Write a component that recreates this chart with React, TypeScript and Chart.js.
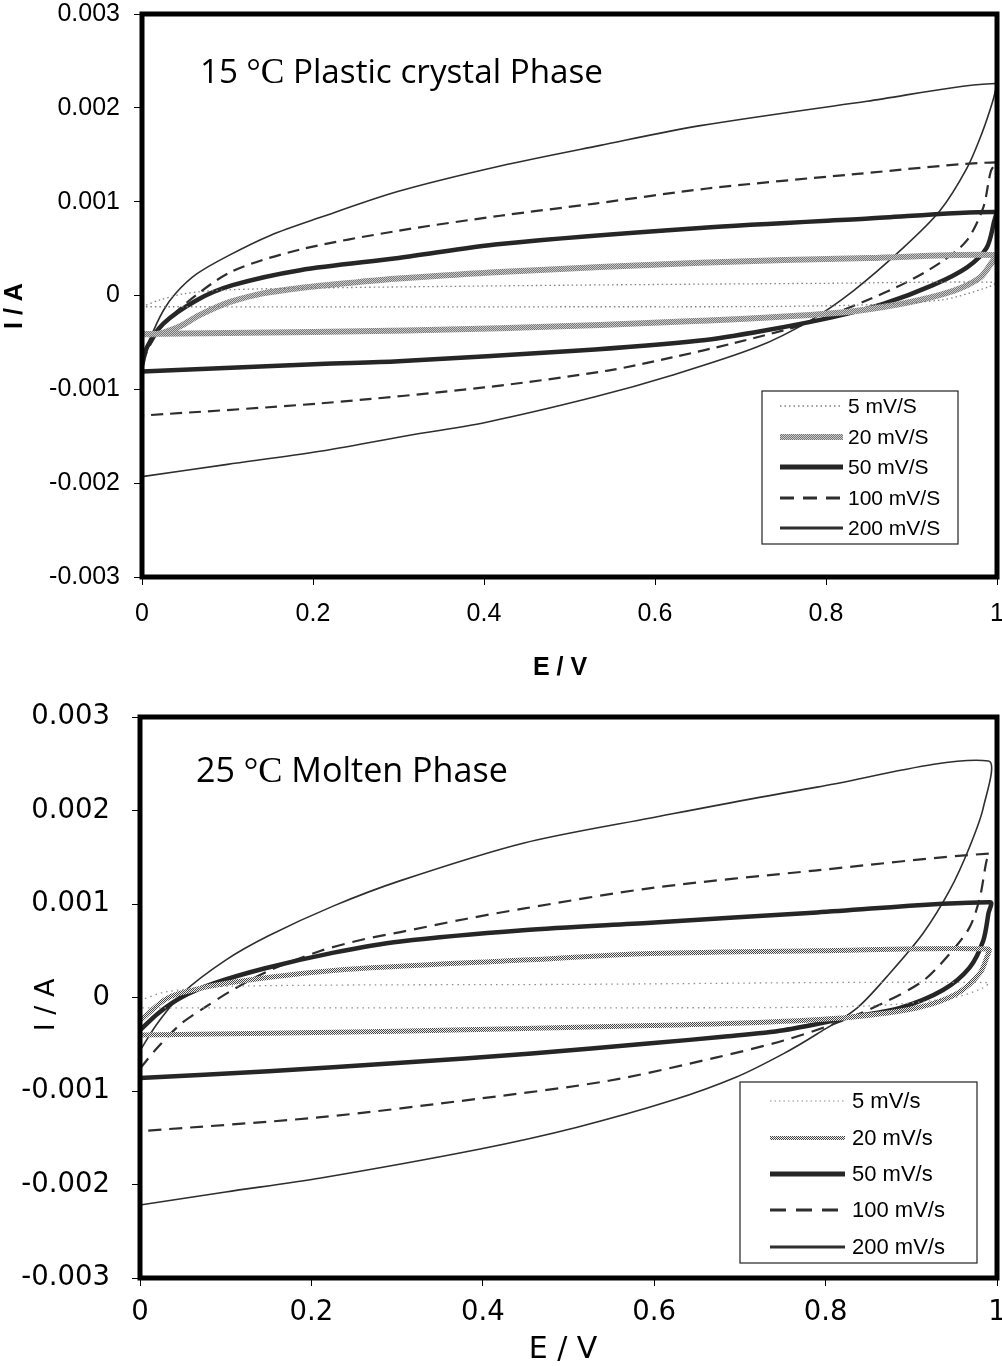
import { useEffect, useRef } from 'react';
import { Chart, registerables } from 'chart.js';

Chart.register(...registerables);

// 15 °C plastic crystal phase, points [E / V, I / A] in scan order (forward then reverse)
const top5: [number, number][] = [
  [0, -0.00012], [0.02, -0.00005], [0.05, 0.00002], [0.1, 0.00006], [0.2, 0.00008], [0.5, 0.00011],
  [0.8, 0.00013], [1.0, 0.00014], [0.99, 0.00009], [0.933, -0.00005], [0.8, -0.00011], [0.5, -0.00012], [0, -0.00012],
];
const top20: [number, number][] = [
  [0, -0.00041], [0.018, -0.00041], [0.044, -0.00033], [0.065, -0.00022], [0.083, -0.00014], [0.106, -0.00006],
  [0.14, 0.00002], [0.185, 0.00008], [0.25, 0.00014], [0.3, 0.00018], [0.419, 0.00025], [0.653, 0.00035],
  [0.85, 0.0004], [1.0, 0.00043],
  [0.993, 0.00034], [0.98, 0.00019], [0.949, 0.00005], [0.887, -0.00009], [0.808, -0.00019], [0.653, -0.00027],
  [0.419, -0.00035], [0.2, -0.00039], [0, -0.00041],
];
const top50: [number, number][] = [
  [0, -0.00075], [0.006, -0.00055], [0.025, -0.0003], [0.064, -0.00005], [0.106, 0.00011], [0.185, 0.00027],
  [0.3, 0.0004], [0.419, 0.00055], [0.653, 0.00072], [0.85, 0.00082], [1.0, 0.00089],
  [0.997, 0.0008], [0.988, 0.00051], [0.965, 0.0003], [0.925, 0.00011], [0.867, -0.00009], [0.808, -0.00023],
  [0.73, -0.00037], [0.653, -0.00048], [0.507, -0.00059], [0.3, -0.0007], [0.208, -0.00073], [0, -0.00081],
];
const top100: [number, number][] = [
  [0, -0.00072], [0.01, -0.00052], [0.025, -0.00031], [0.06, -0.00002], [0.106, 0.00026], [0.185, 0.00049],
  [0.3, 0.00069], [0.419, 0.00085], [0.53, 0.00098], [0.661, 0.00114], [0.83, 0.00129], [1.0, 0.00142],
  [0.993, 0.00133], [0.984, 0.00094], [0.965, 0.00059], [0.937, 0.00037], [0.894, 0.00014], [0.848, -0.00005],
  [0.781, -0.00029], [0.691, -0.00051], [0.62, -0.00066], [0.545, -0.0008], [0.4, -0.00098], [0.208, -0.00115],
  [0, -0.00128],
];
const top200: [number, number][] = [
  [0, -0.00072], [0.01, -0.00045], [0.025, -0.00016], [0.04, 0.00003], [0.064, 0.00023], [0.1, 0.00042],
  [0.15, 0.00064], [0.208, 0.00083], [0.3, 0.00111], [0.419, 0.00138], [0.536, 0.0016], [0.653, 0.00181],
  [0.848, 0.00207], [1.0, 0.00226],
  [0.995, 0.00207], [0.982, 0.00172], [0.965, 0.00136], [0.933, 0.0009], [0.887, 0.00048], [0.832, 0.00005],
  [0.781, -0.00027], [0.719, -0.00055], [0.62, -0.00085], [0.53, -0.00108], [0.403, -0.00135], [0.3, -0.00151],
  [0.208, -0.00166], [0.1, -0.0018], [0, -0.00193],
];

// 25 °C molten phase
const bottom5: [number, number][] = [
  [0, -0.00003], [0.03, 0.00006], [0.1, 0.00012], [0.5, 0.00014], [0.99, 0.00016],
  [0.983, 0.0001], [0.95, 0.0], [0.85, -0.00009], [0.6, -0.00011], [0, -0.00011],
];
const bottom20: [number, number][] = [
  [0, -0.00025], [0.028, -0.00003], [0.048, 0.00005], [0.106, 0.00016], [0.226, 0.00029], [0.447, 0.0004],
  [0.596, 0.00047], [0.79, 0.0005], [0.99, 0.00052],
  [0.988, 0.00043], [0.98, 0.00026], [0.953, 0.00004], [0.907, -0.00011], [0.829, -0.00021], [0.712, -0.00027],
  [0.596, -0.0003], [0.3, -0.00036], [0, -0.0004],
];
const bottom50: [number, number][] = [
  [0, -0.00035], [0.021, -0.00017], [0.048, 0.0], [0.086, 0.00015], [0.145, 0.00031], [0.226, 0.00048],
  [0.304, 0.0006], [0.447, 0.00072], [0.596, 0.0008], [0.79, 0.00091], [0.992, 0.00102],
  [0.99, 0.0009], [0.984, 0.00061], [0.968, 0.00032], [0.937, 0.00008], [0.887, -0.00011], [0.829, -0.00021],
  [0.751, -0.00035], [0.68, -0.00042], [0.596, -0.00049], [0.457, -0.0006], [0.3, -0.0007], [0.15, -0.00079],
  [0, -0.00086],
];
const bottom100: [number, number][] = [
  [0, -0.00076], [0.021, -0.00053], [0.048, -0.00028], [0.075, -0.00011], [0.106, 0.00007], [0.149, 0.00028],
  [0.211, 0.0005], [0.26, 0.00062], [0.304, 0.0007], [0.38, 0.00084], [0.447, 0.00095], [0.596, 0.00117],
  [0.79, 0.00136], [0.992, 0.00154],
  [0.988, 0.00147], [0.98, 0.00107], [0.968, 0.00075], [0.945, 0.00047], [0.914, 0.00018], [0.867, -0.00006],
  [0.813, -0.00027], [0.751, -0.00046], [0.673, -0.00064], [0.547, -0.00089], [0.397, -0.00108],
  [0.211, -0.00128], [0, -0.00143],
];
const bottom200: [number, number][] = [
  [0, -0.00057], [0.02, -0.00028], [0.05, 0.00005], [0.1, 0.0004], [0.15, 0.00066], [0.226, 0.00098],
  [0.304, 0.00125], [0.447, 0.00165], [0.596, 0.00192], [0.79, 0.00225], [0.99, 0.00253],
  [0.984, 0.00203], [0.968, 0.00161], [0.945, 0.00115], [0.914, 0.00069], [0.875, 0.00026], [0.837, -0.00011],
  [0.79, -0.00039], [0.751, -0.0006], [0.696, -0.00085], [0.621, -0.0011], [0.509, -0.00139],
  [0.397, -0.00162], [0.211, -0.00193], [0.1, -0.00208], [0, -0.00222],
];

const topRates = ['5 mV/S', '20 mV/S', '50 mV/S', '100 mV/S', '200 mV/S'];
const bottomRates = ['5 mV/s', '20 mV/s', '50 mV/s', '100 mV/s', '200 mV/s'];

const xTicks = [0, 0.2, 0.4, 0.6, 0.8, 1];
const xTickLabels = ['0', '0.2', '0.4', '0.6', '0.8', '1'];
const yTicks = [-0.003, -0.002, -0.001, 0, 0.001, 0.002, 0.003];
const yTickLabels = ['-0.003', '-0.002', '-0.001', '0', '0.001', '0.002', '0.003'];

type LineStyle = {
  color: string;
  checker?: [string, string];
  width: number;
  dash: number[];
  legendWidth: number;
  legendDash: number[];
};

type TextPart = { text: string; size: number; family: string };

type Props = {
  height: number;
  series: [number, number][][];
  labels: string[];
  styles: LineStyle[];
  padTop: number;
  axisWidth: number;
  axisHeight: number;
  tickFont: { family: string; size: number };
  yPad: number;
  xPad: number;
  title: { x: number; y: number; width: number; parts: TextPart[] };
  yTitle: { x: number; y: number; text: string; font: string };
  xTitle: { x: number; y: number; text: string; font: string };
  legend: { x0: number; y0: number; x1: number; y1: number; rows: number[]; lineX0: number; lineX1: number; textX: number; font: string };
};

function checker(a: string, b: string) {
  const c = document.createElement('canvas');
  c.width = 2;
  c.height = 2;
  const g = c.getContext('2d')!;
  g.fillStyle = a;
  g.fillRect(0, 0, 2, 2);
  g.fillStyle = b;
  g.fillRect(0, 0, 1, 1);
  g.fillRect(1, 1, 1, 1);
  return g.createPattern(c, 'repeat')!;
}

function CvChart(p: Props) {
  const ref = useRef<HTMLCanvasElement>(null);

  useEffect(() => {
    if (!ref.current) return;

    const colors = p.styles.map(s => (s.checker ? checker(s.checker[0], s.checker[1]) : s.color));

    const decor = {
      id: 'decor',
      afterDatasetsDraw(chart: Chart) {
        const { ctx, chartArea: a } = chart;
        ctx.save();

        // heavy frame round the plot
        ctx.strokeStyle = '#000';
        ctx.lineWidth = 5;
        ctx.setLineDash([]);
        ctx.strokeRect(a.left, a.top, a.right - a.left, a.bottom - a.top);

        // label inside the plot, mixed fonts, stretched to the measured span
        ctx.fillStyle = '#000';
        ctx.textAlign = 'left';
        ctx.textBaseline = 'alphabetic';
        let w = 0;
        for (const part of p.title.parts) {
          ctx.font = `${part.size}px ${part.family}`;
          w += ctx.measureText(part.text).width;
        }
        const k = p.title.width / w;
        let tx = p.title.x;
        for (const part of p.title.parts) {
          ctx.font = `${part.size * k}px ${part.family}`;
          ctx.fillText(part.text, tx, p.title.y);
          tx += ctx.measureText(part.text).width;
        }

        // legend box
        const lg = p.legend;
        ctx.fillStyle = '#fff';
        ctx.fillRect(lg.x0, lg.y0, lg.x1 - lg.x0, lg.y1 - lg.y0);
        ctx.strokeStyle = '#222';
        ctx.lineWidth = 1.2;
        ctx.strokeRect(lg.x0, lg.y0, lg.x1 - lg.x0, lg.y1 - lg.y0);
        p.labels.forEach((label, i) => {
          const y = lg.rows[i];
          const st = p.styles[i];
          ctx.strokeStyle = colors[i] as any;
          ctx.lineWidth = st.legendWidth;
          ctx.setLineDash(st.legendDash);
          ctx.beginPath();
          ctx.moveTo(lg.lineX0, y);
          ctx.lineTo(lg.lineX1, y);
          ctx.stroke();
          ctx.setLineDash([]);
          ctx.fillStyle = '#000';
          ctx.font = lg.font;
          ctx.textBaseline = 'middle';
          ctx.fillText(label, lg.textX, y + 1);
        });

        // axis titles
        ctx.textAlign = 'center';
        ctx.textBaseline = 'middle';
        ctx.font = p.xTitle.font;
        ctx.fillText(p.xTitle.text, p.xTitle.x, p.xTitle.y);
        ctx.translate(p.yTitle.x, p.yTitle.y);
        ctx.rotate(-Math.PI / 2);
        ctx.font = p.yTitle.font;
        ctx.fillText(p.yTitle.text, 0, 0);

        ctx.restore();
      },
    };

    const chart = new Chart(ref.current, {
      type: 'scatter',
      data: {
        datasets: p.series.map((pts, i) => ({
          label: p.labels[i],
          data: pts.map(([x, y]) => ({ x, y })),
          showLine: true,
          borderColor: colors[i] as any,
          borderWidth: p.styles[i].width,
          borderDash: p.styles[i].dash,
          pointRadius: 0,
          tension: 0.3,
          fill: false,
          clip: 0,
        })),
      },
      options: {
        animation: false,
        responsive: true,
        maintainAspectRatio: false,
        layout: { padding: { top: p.padTop, left: 0, right: 5, bottom: 0 } },
        plugins: { legend: { display: false }, tooltip: { enabled: false } },
        scales: {
          x: {
            type: 'linear',
            min: 0,
            max: 1,
            afterBuildTicks: (s: any) => {
              s.ticks = xTicks.map(v => ({ value: v }));
            },
            afterFit: (s: any) => {
              s.height = p.axisHeight;
              s.paddingLeft = 0;
              s.paddingRight = 0;
            },
            border: { display: false },
            grid: { drawOnChartArea: false, tickLength: 8, color: '#000', lineWidth: 1 },
            ticks: {
              autoSkip: false,
              maxRotation: 0,
              padding: p.xPad,
              color: '#000',
              font: p.tickFont,
              callback: (v: any) => xTickLabels[xTicks.indexOf(v)],
            },
          },
          y: {
            type: 'linear',
            min: -0.003,
            max: 0.003,
            afterBuildTicks: (s: any) => {
              s.ticks = yTicks.map(v => ({ value: v }));
            },
            afterFit: (s: any) => {
              s.width = p.axisWidth;
              s.paddingTop = 0;
              s.paddingBottom = 0;
            },
            border: { display: false },
            grid: { drawOnChartArea: false, tickLength: 8, color: '#000', lineWidth: 1 },
            ticks: {
              autoSkip: false,
              padding: p.yPad,
              color: '#000',
              font: p.tickFont,
              callback: (v: any) => yTickLabels[yTicks.indexOf(v)],
            },
          },
        },
      },
      plugins: [decor],
    });

    return () => chart.destroy();
  }, []);

  return (
    <div style={{ position: 'relative', width: 1002, height: p.height }}>
      <canvas ref={ref} />
    </div>
  );
}

const topStyles: LineStyle[] = [
  { color: '#808080', width: 1.3, dash: [1.5, 3], legendWidth: 1.3, legendDash: [1.5, 3] },
  { color: '#999', checker: ['#777', '#cacaca'], width: 6, dash: [], legendWidth: 6, legendDash: [] },
  { color: '#262626', width: 4.5, dash: [], legendWidth: 5, legendDash: [] },
  { color: '#2e2e2e', width: 2.2, dash: [12, 7], legendWidth: 3, legendDash: [14, 9] },
  { color: '#2e2e2e', width: 1.6, dash: [], legendWidth: 3, legendDash: [] },
];

const bottomStyles: LineStyle[] = [
  { color: '#909090', width: 1.3, dash: [1.5, 4], legendWidth: 1.2, legendDash: [1.5, 3] },
  { color: '#777', checker: ['#444', '#f0f0f0'], width: 5, dash: [], legendWidth: 4, legendDash: [] },
  { color: '#262626', width: 4.5, dash: [], legendWidth: 5, legendDash: [] },
  { color: '#2e2e2e', width: 2.2, dash: [13, 8], legendWidth: 3, legendDash: [16, 10] },
  { color: '#2e2e2e', width: 1.6, dash: [], legendWidth: 3, legendDash: [] },
];

export default function App() {
  return (
    <div style={{ position: 'absolute', left: 0, top: 0, width: 1002, height: 1366, background: '#fff' }}>
      <CvChart
        height={695}
        series={[top5, top20, top50, top100, top200]}
        labels={topRates}
        styles={topStyles}
        padTop={14}
        axisWidth={142}
        axisHeight={118}
        tickFont={{ family: '"Liberation Sans", Arial, sans-serif', size: 25 }}
        yPad={14}
        xPad={14}
        title={{
          x: 200,
          y: 83,
          width: 403,
          parts: [
            { text: '15 ', size: 31, family: '"Open Sans"' },
            { text: '°C', size: 33, family: '"Liberation Serif"' },
            { text: ' Plastic crystal Phase', size: 31, family: '"Open Sans"' },
          ],
        }}
        yTitle={{ x: 15, y: 306, text: 'I / A', font: 'bold 25px "Liberation Sans"' }}
        xTitle={{ x: 560, y: 668, text: 'E / V', font: 'bold 25px "Liberation Sans"' }}
        legend={{
          x0: 762, y0: 391, x1: 958, y1: 544,
          rows: [406, 437, 467, 498, 528],
          lineX0: 780, lineX1: 843, textX: 848,
          font: '21px "Liberation Sans"',
        }}
      />
      <CvChart
        height={671}
        series={[bottom5, bottom20, bottom50, bottom100, bottom200]}
        labels={bottomRates}
        styles={bottomStyles}
        padTop={22}
        axisWidth={140}
        axisHeight={88}
        tickFont={{ family: '"DejaVu Sans", sans-serif', size: 27.5 }}
        yPad={22}
        xPad={10}
        title={{
          x: 196,
          y: 87,
          width: 312,
          parts: [
            { text: '25 ', size: 32, family: '"Open Sans"' },
            { text: '°C', size: 34, family: '"Liberation Serif"' },
            { text: ' Molten Phase', size: 32, family: '"Open Sans"' },
          ],
        }}
        yTitle={{ x: 47, y: 310, text: 'I / A', font: '27px "DejaVu Sans"' }}
        xTitle={{ x: 563, y: 655, text: 'E / V', font: '30px "DejaVu Sans"' }}
        legend={{
          x0: 740, y0: 387, x1: 977, y1: 568,
          rows: [406, 443, 479, 515, 552],
          lineX0: 770, lineX1: 845, textX: 852,
          font: '22px "Liberation Sans"',
        }}
      />
    </div>
  );
}
